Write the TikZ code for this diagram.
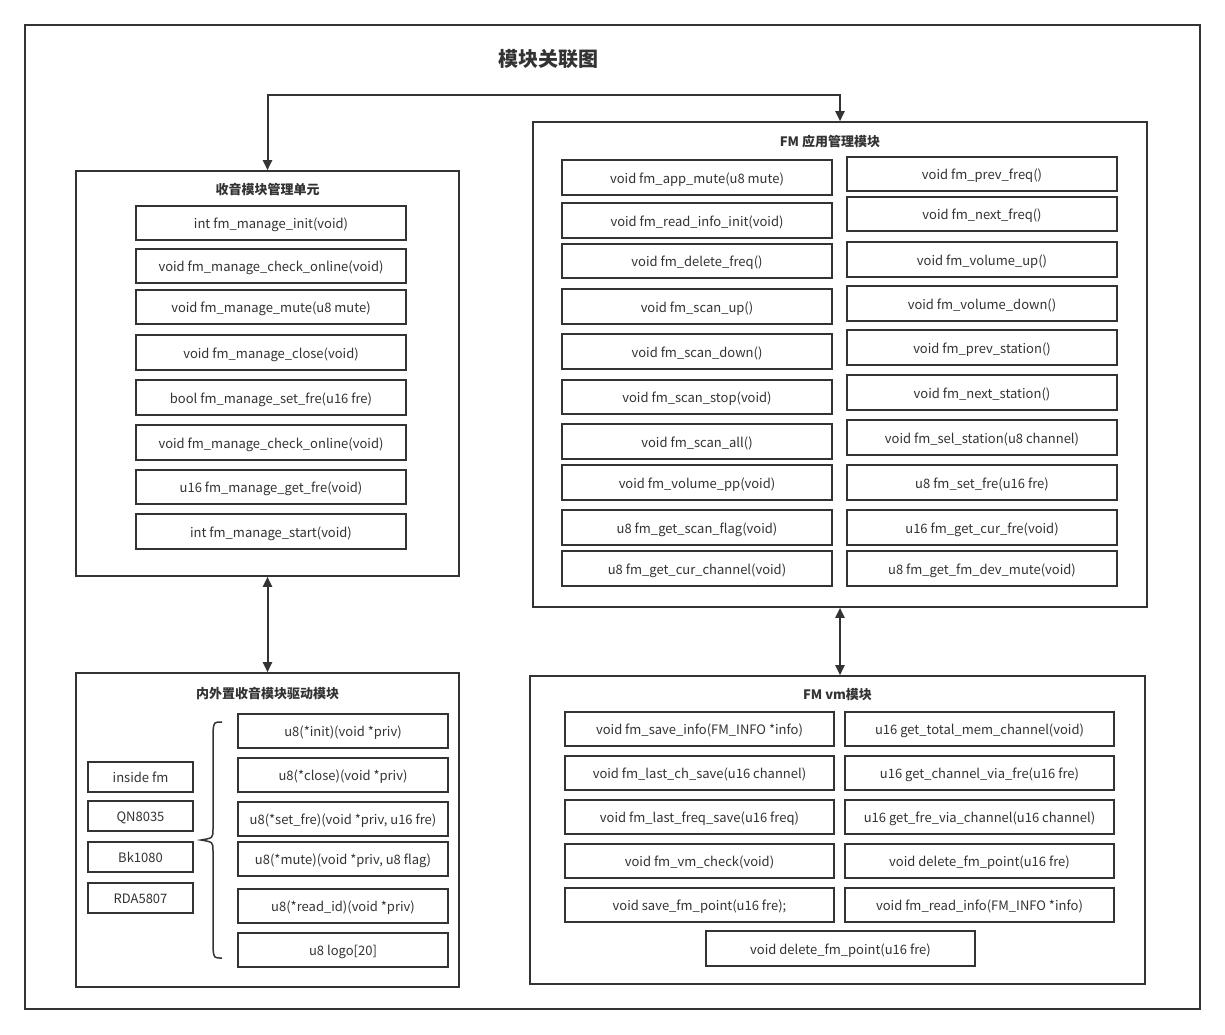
\documentclass[tikz,border=0pt]{standalone}
\usepackage{fontspec}
\setmainfont{Noto Sans CJK SC}
\usetikzlibrary{arrows.meta}
\definecolor{ink}{HTML}{333333}
\tikzset{
  fbx/.style={draw=ink, line width=1.6pt, inner sep=0pt, text height=12pt, text depth=1pt, font=\fontsize{13}{15}\selectfont, text=ink},
  modbox/.style={draw=ink, line width=1.6pt, inner sep=0pt},
  modtitle/.style={font=\bfseries\fontsize{13}{15}\selectfont, text=ink, inner sep=0pt},
  arr/.style={draw=ink, line width=2pt, {Triangle[length=10pt,width=9pt]}-{Triangle[length=10pt,width=9pt]}},
  brc/.style={draw=ink, line width=1.5pt},
}
\newcommand\bx[6]{\node[fbx, minimum width={#4-#2}, minimum height={#5-#3}] (#1) at ({(#2+#4)/2},{(#3+#5)/2}) {#6};}
\newcommand\mbx[5]{\node[modbox, minimum width={#4-#2}, minimum height={#5-#3}] (#1) at ({(#2+#4)/2},{(#3+#5)/2}) {};}
\begin{document}
\begin{tikzpicture}[x=1pt,y=-1pt]
\useasboundingbox (0,0) rectangle (1225,1034);
\fill[white] (0,0) rectangle (1225,1034);
\node[draw=ink, line width=1.5pt, minimum width=1175pt, minimum height=984pt, inner sep=0pt] (outer) at (612.5,517) {};
\node[font=\bfseries\fontsize{20}{24}\selectfont, text=ink] (title) at (548,59) {模块关联图};

% module boxes
\mbx{mgr}{76}{171}{459}{576}
\mbx{drv}{76}{673}{459}{987}
\mbx{app}{533}{122}{1147}{607}
\mbx{vm}{530}{676}{1145}{984}
\node[modtitle] (mgrt) at (267.5,190) {收音模块管理单元};
\node[modtitle] (drvt) at (267.5,693) {内外置收音模块驱动模块};
\node[modtitle] (appt) at (830,142) {FM 应用管理模块};
\node[modtitle] (vmt) at (837.5,695) {FM vm模块};

% manager unit
\bx{m1}{136}{206}{406}{240}{int fm\_manage\_init(void)}
\bx{m2}{136}{249}{406}{283}{void fm\_manage\_check\_online(void)}
\bx{m3}{136}{290}{406}{324}{void fm\_manage\_mute(u8 mute)}
\bx{m4}{136}{335}{406}{370}{void fm\_manage\_close(void)}
\bx{m5}{136}{380}{406}{415}{bool fm\_manage\_set\_fre(u16 fre)}
\bx{m6}{136}{425}{406}{460}{void fm\_manage\_check\_online(void)}
\bx{m7}{136}{470}{406}{504}{u16 fm\_manage\_get\_fre(void)}
\bx{m8}{136}{514}{406}{549}{int fm\_manage\_start(void)}

% driver module
\bx{d1}{88}{762}{193}{792}{inside fm}
\bx{d2}{88}{801}{193}{831}{QN8035}
\bx{d3}{88}{842}{193}{872}{Bk1080}
\bx{d4}{88}{883}{193}{913}{RDA5807}
\bx{f1}{238}{714}{448}{748}{u8(*init)(void *priv)}
\bx{f2}{238}{758}{448}{792}{u8(*close)(void *priv)}
\bx{f3}{238}{802}{448}{836}{u8(*set\_fre)(void *priv, u16 fre)}
\bx{f4}{238}{842}{448}{876}{u8(*mute)(void *priv, u8 flag)}
\bx{f5}{238}{889}{448}{923}{u8(*read\_id)(void *priv)}
\bx{f6}{238}{933}{448}{967}{u8 logo[20]}
\draw[brc] (222,722) .. controls (214,722) .. (213,731) -- (213,829) .. controls (213,838) .. (201,840)
  .. controls (213,842) .. (213,851) -- (213,949) .. controls (214,958) .. (222,958);

% app module
\bx{a1}{562}{160}{832}{195}{void fm\_app\_mute(u8 mute)}
\bx{a2}{562}{203}{832}{238}{void fm\_read\_info\_init(void)}
\bx{a3}{562}{244}{832}{278}{void fm\_delete\_freq()}
\bx{a4}{562}{289}{832}{324}{void fm\_scan\_up()}
\bx{a5}{562}{334}{832}{369}{void fm\_scan\_down()}
\bx{a6}{562}{380}{832}{414}{void fm\_scan\_stop(void)}
\bx{a7}{562}{424}{832}{459}{void fm\_scan\_all()}
\bx{a8}{562}{465}{832}{500}{void fm\_volume\_pp(void)}
\bx{a9}{562}{510}{832}{545}{u8 fm\_get\_scan\_flag(void)}
\bx{a10}{562}{551}{832}{586}{u8 fm\_get\_cur\_channel(void)}
\bx{b1}{847}{157}{1117}{191}{void fm\_prev\_freq()}
\bx{b2}{847}{197}{1117}{231}{void fm\_next\_freq()}
\bx{b3}{847}{242}{1117}{277}{void fm\_volume\_up()}
\bx{b4}{847}{286}{1117}{321}{void fm\_volume\_down()}
\bx{b5}{847}{330}{1117}{365}{void fm\_prev\_station()}
\bx{b6}{847}{375}{1117}{410}{void fm\_next\_station()}
\bx{b7}{847}{420}{1117}{455}{void fm\_sel\_station(u8 channel)}
\bx{b8}{847}{465}{1117}{500}{u8 fm\_set\_fre(u16 fre)}
\bx{b9}{847}{510}{1117}{545}{u16 fm\_get\_cur\_fre(void)}
\bx{b10}{847}{551}{1117}{586}{u8 fm\_get\_fm\_dev\_mute(void)}

% vm module
\bx{v1}{565}{712}{834}{746}{void fm\_save\_info(FM\_INFO *info)}
\bx{v2}{565}{756}{834}{790}{void fm\_last\_ch\_save(u16 channel)}
\bx{v3}{565}{800}{834}{834}{void fm\_last\_freq\_save(u16 freq)}
\bx{v4}{565}{844}{834}{878}{void fm\_vm\_check(void)}
\bx{v5}{565}{888}{834}{922}{void save\_fm\_point(u16 fre);}
\bx{w1}{845}{712}{1114}{746}{u16 get\_total\_mem\_channel(void)}
\bx{w2}{845}{756}{1114}{790}{u16 get\_channel\_via\_fre(u16 fre)}
\bx{w3}{845}{800}{1114}{834}{u16 get\_fre\_via\_channel(u16 channel)}
\bx{w4}{845}{844}{1114}{878}{void delete\_fm\_point(u16 fre)}
\bx{w5}{845}{888}{1114}{922}{void fm\_read\_info(FM\_INFO *info)}
\bx{v6}{706}{931}{975}{966}{void delete\_fm\_point(u16 fre)}

% connectors
\coordinate (top) at (267.5,95);
\draw[arr] (mgr.north) -- (mgr.north |- top) -| (app.north);
\draw[arr] (mgr.south) -- (drv.north);
\draw[arr] (app.south) -- (app.south |- vm.north);
\end{tikzpicture}
\end{document}
